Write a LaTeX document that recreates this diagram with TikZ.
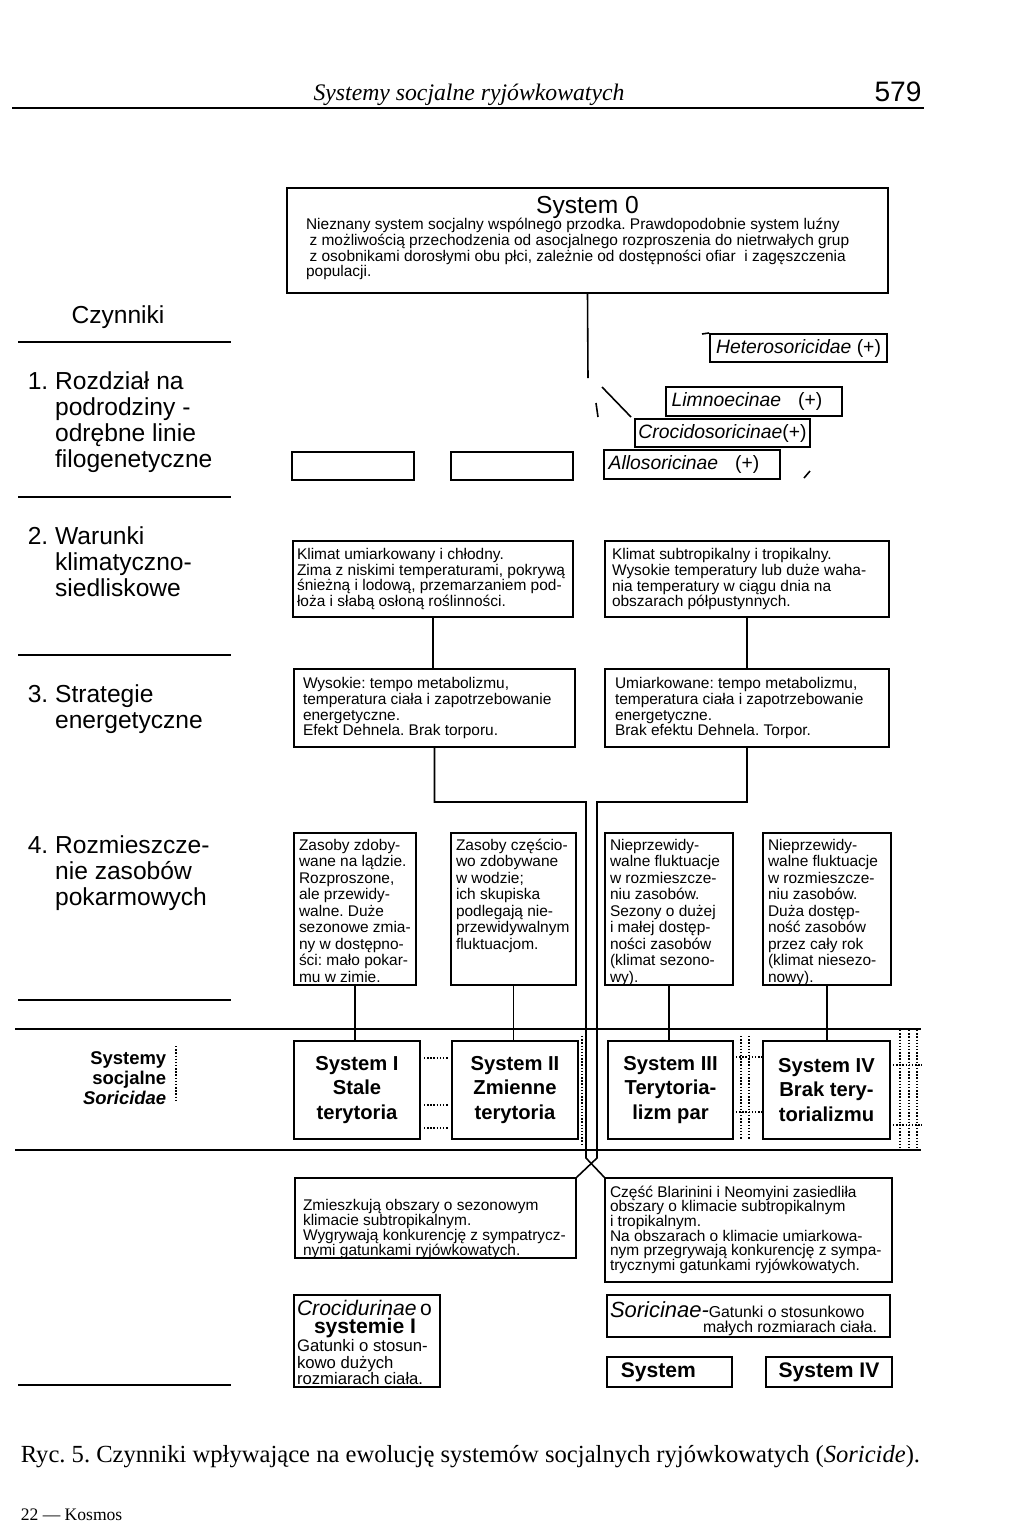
\documentclass[tikz,border=0pt]{standalone}
\usepackage{fontspec}
\setmainfont{Liberation Sans}
\newfontfamily\pagefont{Liberation Serif}
\usetikzlibrary{positioning}
\frenchspacing
\setlength{\lineskiplimit}{-10pt}

\begin{document}
\begin{tikzpicture}[x=0.02cm, y=-0.02cm, line width=0.9pt,
    every node/.style={inner sep=0pt},
    box/.style={draw, line width=0.9pt},
    txt/.style={align=left, font=\fontsize{8.8}{9.1}\selectfont},
    rtxt/.style={align=left, font=\fontsize{8.8}{9.4}\selectfont},
    btxt/.style={align=left, font=\fontsize{8.8}{8.3}\selectfont},
    fam/.style={box, font=\itshape\fontsize{11}{13}\selectfont, minimum height=0.57cm},
    sysbox/.style={box, align=center, font=\bfseries\fontsize{11.5}{14.2}\selectfont, minimum height=1.96cm},
    fact/.style={anchor=west, align=left, font=\fontsize{14}{14.9}\selectfont},
    rule/.style={line width=0.7pt},
    dotln/.style={line width=0.8pt, densely dotted}]

  \fill[white] (0,0) rectangle (1024,1536);
  \useasboundingbox (0,0) rectangle (1024,1536);

  \node[font=\pagefont\itshape\fontsize{13.5}{16}\selectfont] (head) at (469,95) {Systemy socjalne ryjówkowatych};
  \node[font=\fontsize{16}{18}\selectfont] (page) at (898,92) {579};
  \draw[rule] (12,108) -- (924,108);

  % czynniki
  \node[font=\fontsize{14}{16}\selectfont] (czyn) at (118,317) {Czynniki};
  \foreach \y in {342,497,655,1000,1385} \draw[rule] (18,\y) -- (231,\y);
  \node[fact] (fac1) at (27,422) {1. Rozdział na\\\phantom{1. }podrodziny -\\\phantom{1. }odrębne linie\\\phantom{1. }filogenetyczne};
  \node[fact] (fac2) at (27,562) {2. Warunki\\\phantom{2. }klimatyczno-\\\phantom{2. }siedliskowe};
  \node[fact] (fac3) at (27,709) {3. Strategie\\\phantom{3. }energetyczne};
  \node[fact] (fac4) at (27,873) {4. Rozmieszcze-\\\phantom{4. }nie zasobów\\\phantom{4. }pokarmowych};
  \node[anchor=east, align=right, font=\bfseries\fontsize{10.5}{11.3}\selectfont] (soc) at (167,1078) {Systemy\\socjalne\\\textit{Soricidae}};
  \draw[rule] (15,1029) -- (921,1029);
  \draw[rule] (15,1150) -- (921,1150);

  % system 0
  \node[box, minimum width=12.02cm, minimum height=2.1cm] (sys0) at (587.5,240.5) {};
  \node[font=\fontsize{14}{16}\selectfont, below=0.16cm of sys0.north] (sys0t) {System 0};
  \node[txt, font=\fontsize{8.8}{9}\selectfont, below right=0.6cm and 0.38cm of sys0.north west] (sys0b) {Nieznany system socjalny wspólnego przodka. Prawdopodobnie system luźny\\\hspace*{2pt}z możliwością przechodzenia od asocjalnego rozproszenia do nietrwałych grup\\\hspace*{2pt}z osobnikami dorosłymi obu płci, zależnie od dostępności ofiar\ \ i zagęszczenia\\populacji.};
  \coordinate (sys0end) at (588,378);
  \draw (sys0.south) -- (sys0end);

  % podrodziny
  \node[fam, minimum width=3.54cm] (heter) at (798.5,348) {Heterosoricidae \textup{(+)}};
  \node[fam, minimum width=3.52cm] (limno) at (754,401.5) {Limnoecinae\hspace{0.6em} \textup{(+)}\hspace*{0.28cm}};
  \node[fam, minimum width=3.5cm] (croci) at (722.5,433) {Crocidosoricinae\textup{(+)}};
  \node[fam, minimum width=3.52cm] (allos) at (692,464.5) {Allosoricinae\hspace{0.6em} \textup{(+)}\hspace*{0.32cm}};
  \node[box, minimum width=2.44cm, minimum height=0.56cm] (blankA) at (353,466) {};
  \node[box, minimum width=2.44cm, minimum height=0.56cm] (blankB) at (512,466) {};
  \draw (702,334) -- (heter.north west);
  \draw (602,387) -- (631,417);
  \draw (596,403) -- (598,417);
  \draw (804,478) -- (810,471);

  % klimat
  \node[box, minimum width=5.6cm, minimum height=1.52cm] (climA) at (433,579) {};
  \node[txt, right=0.08cm of climA.west] (climAt) {Klimat umiarkowany i chłodny.\\Zima z niskimi temperaturami, pokrywą\\śnieżną i lodową, przemarzaniem pod-\\łoża i słabą osłoną roślinności.};
  \node[box, minimum width=5.68cm, minimum height=1.52cm] (climB) at (747,579) {};
  \node[txt, right=0.14cm of climB.west] (climBt) {Klimat subtropikalny i tropikalny.\\Wysokie temperatury lub duże waha-\\nia temperatury w ciągu dnia na\\obszarach półpustynnych.};

  % strategie
  \node[box, minimum width=5.62cm, minimum height=1.56cm] (enA) at (434.5,708) {};
  \node[txt, right=0.18cm of enA.west] (enAt) {Wysokie: tempo metabolizmu,\\temperatura ciała i zapotrzebowanie\\energetyczne.\\Efekt Dehnela. Brak torporu.};
  \node[box, minimum width=5.68cm, minimum height=1.56cm] (enB) at (747,708) {};
  \node[txt, right=0.2cm of enB.west] (enBt) {Umiarkowane: tempo metabolizmu,\\temperatura ciała i zapotrzebowanie\\energetyczne.\\Brak efektu Dehnela. Torpor.};
  \draw (climA.south) -- (climA.south |- enA.north);
  \draw (climB.south) -- (climB.south |- enB.north);

  % zasoby
  \node[box, minimum width=2.44cm, minimum height=3.04cm] (resA) at (355,909) {};
  \node[rtxt, below right=0.12cm and 0.1cm of resA.north west] (resAt) {Zasoby zdoby-\\wane na lądzie.\\Rozproszone,\\ale przewidy-\\walne. Duże\\sezonowe zmia-\\ny w dostępno-\\ści: mało pokar-\\mu w zimie.};
  \node[box, minimum width=2.5cm, minimum height=3.04cm] (resB) at (513.5,909) {};
  \node[rtxt, below right=0.12cm and 0.1cm of resB.north west] (resBt) {Zasoby częścio-\\wo zdobywane\\w wodzie;\\ich skupiska\\podlegają nie-\\przewidywalnym\\fluktuacjom.};
  \node[box, minimum width=2.56cm, minimum height=3.04cm] (resC) at (669,909) {};
  \node[rtxt, below right=0.12cm and 0.1cm of resC.north west] (resCt) {Nieprzewidy-\\walne fluktuacje\\w rozmieszcze-\\niu zasobów.\\Sezony o dużej\\i małej dostęp-\\ności zasobów\\(klimat sezono-\\wy).};
  \node[box, minimum width=2.56cm, minimum height=3.04cm] (resD) at (827,909) {};
  \node[rtxt, below right=0.12cm and 0.1cm of resD.north west] (resDt) {Nieprzewidy-\\walne fluktuacje\\w rozmieszcze-\\niu zasobów.\\Duża dostęp-\\ność zasobów\\przez cały rok\\(klimat niesezo-\\nowy).};

  % systemy
  \node[sysbox, minimum width=2.52cm] (sysA) at (357,1090) {System I\\Stale\\terytoria};
  \node[sysbox, minimum width=2.52cm] (sysB) at (515,1090) {System II\\Zmienne\\terytoria};
  \node[sysbox, minimum width=2.5cm] (sysC) at (670.5,1090) {System III\\Terytoria-\\lizm par};
  \node[sysbox, minimum width=2.54cm] (sysD) at (826.5,1090) {System IV\\Brak tery-\\torializmu};
  \foreach \r/\s in {resA/sysA, resB/sysB, resC/sysC, resD/sysD} \draw (\r.south) -- (\r.south |- \s.north);

  \draw[dotln] (176,1046) -- (176,1100);
  \foreach \y in {1058,1105,1128} \draw[dotln] (424,\y) -- (448,\y);
  \draw[dotln] (582,1036) -- (582,1146);
  \foreach \x in {741,749} \draw[dotln] (\x,1036) -- (\x,1140);
  \foreach \y in {1057,1112} \draw[dotln] (736,\y) -- (762,\y);
  \foreach \x in {900,909,917} \draw[dotln] (\x,1030) -- (\x,1150);
  \foreach \y in {1065,1125} \draw[dotln] (893,\y) -- (922,\y);

  % skutki
  \node[box, minimum width=5.62cm, minimum height=1.6cm] (botL) at (435.5,1218) {};
  \node[btxt, font=\fontsize{8.8}{8.5}\selectfont, below right=0.42cm and 0.16cm of botL.north west] (botLt) {Zmieszkują obszary o sezonowym\\klimacie subtropikalnym.\\Wygrywają konkurencję z sympatrycz-\\nymi gatunkami ryjówkowatych.};
  \node[box, minimum width=5.74cm, minimum height=2.08cm] (botR) at (748.5,1230) {};
  \node[btxt, below right=0.16cm and 0.1cm of botR.north west] (botRt) {Część Blarinini i Neomyini zasiedliła\\obszary o klimacie subtropikalnym\\i tropikalnym.\\Na obszarach o klimacie umiarkowa-\\nym przegrywają konkurencję z sympa-\\trycznymi gatunkami ryjówkowatych.};

  \coordinate (jA) at (586,802);
  \coordinate (jB) at (597,802);
  \coordinate (xA) at (586,1158);
  \coordinate (xB) at (597,1158);
  \draw (enA.south) |- (jA) -- (xA) -- (botR.north west);
  \draw (enB.south) |- (jB) -- (xB) -- (botL.north east);

  \node[box, minimum width=2.92cm, minimum height=1.84cm] (croc) at (367,1341) {};
  \node[align=left, font=\fontsize{9.5}{9.2}\selectfont, below right=0.1cm and 0.06cm of croc.north west] (croct) {{\fontsize{12}{13}\selectfont\textit{Crocidurinae}\,o}\\[1.2pt]\hspace*{0.34cm}{\fontsize{12}{13}\selectfont\bfseries systemie I}\\[1.2pt]Gatunki o stosun-\\kowo dużych\\rozmiarach ciała.};
  \node[box, minimum width=5.66cm, minimum height=0.84cm] (soric) at (748.5,1316) {};
  \node[align=left, font=\fontsize{9}{8.3}\selectfont, below right=0.14cm and 0.06cm of soric.north west] (sorict) {{\fontsize{12.5}{13}\selectfont\itshape Soricinae-}Gatunki o stosunkowo\\\hspace*{1.86cm}małych rozmiarach ciała.};
  \node[box, font=\bfseries\fontsize{12}{14}\selectfont, minimum width=2.5cm, minimum height=0.6cm] (sysE) at (669.5,1372) {System\hspace*{0.45cm}};
  \node[box, font=\bfseries\fontsize{12}{14}\selectfont, minimum width=2.52cm, minimum height=0.6cm] (sysF) at (829,1372) {System IV};

  \node[anchor=west, font=\pagefont\fontsize{14}{16}\selectfont] (capt) at (20,1457) {Ryc. 5. Czynniki wpływające na ewolucję systemów socjalnych ryjówkowatych (\textit{Soricide}).};
  \node[anchor=west, font=\pagefont\fontsize{10}{12}\selectfont] (foot) at (20,1515) {22 — Kosmos};
\end{tikzpicture}
\end{document}
